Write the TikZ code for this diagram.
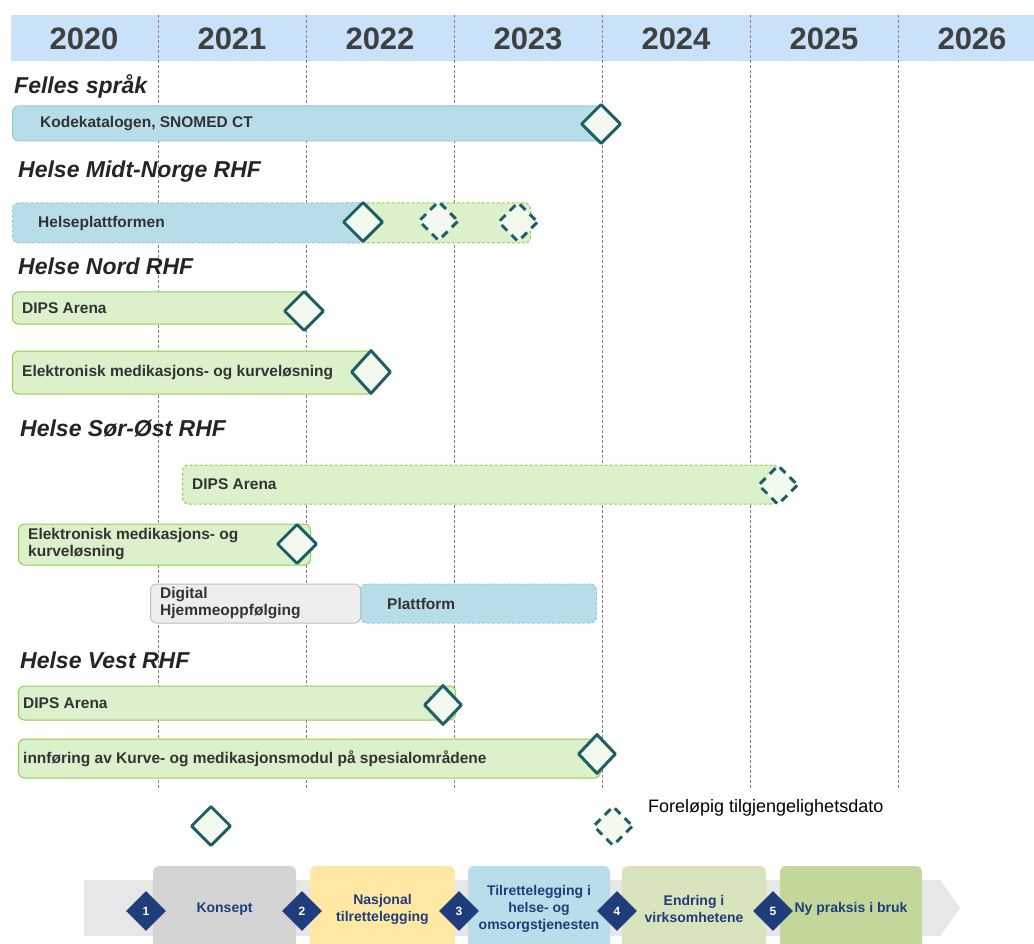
\documentclass[tikz,border=0pt]{standalone}
\usepackage{fontspec}
\setmainfont{Liberation Sans}
\usetikzlibrary{shapes.geometric,positioning}
\definecolor{headband}{HTML}{C9E2F9}
\definecolor{yeartext}{HTML}{404040}
\definecolor{headtext}{HTML}{262329}
\definecolor{gridgray}{HTML}{808080}
\definecolor{barblue}{HTML}{B7DDE8}
\definecolor{barblueedge}{HTML}{92CDDC}
\definecolor{bargreen}{HTML}{DCF0CB}
\definecolor{bargreenedge}{HTML}{92D050}
\definecolor{bargray}{HTML}{EDEDED}
\definecolor{bargrayedge}{HTML}{BFBFBF}
\definecolor{bartextcol}{HTML}{333333}
\definecolor{milefill}{HTML}{F3F9EF}
\definecolor{miledraw}{HTML}{1F5F66}
\definecolor{phasebg}{HTML}{E7E7E7}
\definecolor{phaseone}{HTML}{D4D4D4}
\definecolor{phasetwo}{HTML}{FFE8A3}
\definecolor{phasethree}{HTML}{B9DEE9}
\definecolor{phasefour}{HTML}{D8E4BC}
\definecolor{phasefive}{HTML}{C4D79B}
\definecolor{phasenavy}{HTML}{1F3D7A}

\begin{document}
\begin{tikzpicture}[
  x=1pt,
  y=-1pt,
  line join=round,
  yearlabel/.style={inner sep=0pt,font=\bfseries\fontsize{31}{31}\selectfont,text=yeartext},
  heading/.style={anchor=west,inner sep=0pt,font=\bfseries\itshape\fontsize{23}{24}\selectfont,text=headtext},
  gridline/.style={draw=gridgray,line width=0.8pt,dash pattern=on 3pt off 2pt},
  bar/.style={rectangle,rounded corners=6pt,line width=1pt,inner sep=0pt},
  bluebar/.style={bar,fill=barblue,draw=barblueedge},
  greenbar/.style={bar,fill=bargreen,draw=bargreenedge},
  graybar/.style={bar,fill=bargray,draw=bargrayedge},
  plannedbar/.style={dash pattern=on 3pt off 2pt},
  bartext/.style={inner sep=0pt,font=\bfseries\fontsize{15.5}{17}\selectfont,text=bartextcol,align=left},
  milestone/.style={diamond,inner sep=0pt,minimum width=40pt,minimum height=40pt,fill=milefill,draw=miledraw,line width=3pt},
  plannedmile/.style={milestone,dash pattern=on 8pt off 6pt,dash phase=11pt},
  phasebox/.style={rectangle,rounded corners=6pt,inner sep=0pt,minimum height=86pt,align=center,
    font=\bfseries\fontsize{14}{17}\selectfont,text=phasenavy},
  stepmark/.style={diamond,inner sep=0pt,minimum width=40pt,minimum height=40pt,fill=phasenavy,
    text=white,font=\bfseries\fontsize{12}{12}\selectfont}
]
  % Frame of the original screenshot.
  \useasboundingbox (0,0) rectangle (1034,944);

  % Year header and dashed year dividers.
  \fill[headband] (11,15) rectangle (1034,61);
  \foreach \x in {158,306,...,898}
    \draw[gridline] (\x,15) -- (\x,790);
  \foreach \yr [count=\i from 0] in {2020,...,2026}
    \node[yearlabel] (y\yr) at (84+148*\i,39) {\yr};

  % Felles spraak.
  \node[heading] (felles) at (14,86) {Felles språk};
  \node[bluebar,minimum width=590pt,minimum height=35pt,anchor=west] (kode) at (12,123.5) {};
  \node[bartext,right=28pt of kode.west] (kodetext) {Kodekatalogen, SNOMED CT};
  \node[milestone] (kodemile) at (601,124) {};

  % Helse Midt-Norge RHF.
  \node[heading] (midt) at (18,172) {Helse Midt-Norge RHF};
  \node[greenbar,plannedbar,minimum width=190pt,minimum height=40pt,anchor=west] (hpnext) at (340,223) {};
  \node[bluebar,plannedbar,minimum width=352pt,minimum height=40pt,anchor=west] (hp) at (12,223) {};
  \node[bartext,right=26pt of hp.west] (hptext) {Helseplattformen};
  \node[milestone] (hpmile) at (363,222) {};
  \node[plannedmile] (hpmiletwo) at (438.5,221) {};
  \node[plannedmile] (hpmilethree) at (518,222) {};

  % Helse Nord RHF.
  \node[heading] (nord) at (18,266) {Helse Nord RHF};
  \node[greenbar,minimum width=298pt,minimum height=32pt,anchor=west] (dipsnord) at (12,308) {};
  \node[bartext,right=10pt of dipsnord.west] (dipsnordtext) {DIPS Arena};
  \node[milestone] (dipsnordmile) at (304,311) {};
  \node[greenbar,minimum width=360pt,minimum height=43pt,anchor=west] (kurvenord) at (12,372.5) {};
  \node[bartext,right=10pt of kurvenord.west] (kurvenordtext) {Elektronisk medikasjons- og kurveløsning};
  \node[milestone,minimum height=44pt] (kurvenordmile) at (371,372) {};

  % Helse Soer-Oest RHF.
  \node[heading] (sorost) at (20,428) {Helse Sør-Øst RHF};
  \node[greenbar,plannedbar,minimum width=596pt,minimum height=39pt,anchor=west] (dipssor) at (182,484.5) {};
  \node[bartext,right=10pt of dipssor.west] (dipssortext) {DIPS Arena};
  \node[plannedmile] (dipssormile) at (778,485) {};
  \node[greenbar,minimum width=292pt,minimum height=41pt,anchor=west] (kurvesor) at (18,544.5) {};
  \node[bartext,right=10pt of kurvesor.west] (kurvesortext) {Elektronisk medikasjons- og\\kurveløsning};
  \node[milestone] (kurvesormile) at (297,544) {};
  \node[bluebar,plannedbar,minimum width=236pt,minimum height=39pt,anchor=west] (plattform) at (360,603.5) {};
  \node[graybar,minimum width=210pt,minimum height=39pt,anchor=west] (hjemme) at (150,603.5) {};
  \node[bartext,right=10pt of hjemme.west] (hjemmetext) {Digital\\Hjemmeoppfølging};
  \node[bartext,right=27pt of plattform.west] (plattformtext) {Plattform};

  % Helse Vest RHF.
  \node[heading] (vest) at (20,660) {Helse Vest RHF};
  \node[greenbar,minimum width=437pt,minimum height=34pt,anchor=west] (dipsvest) at (18,703) {};
  \node[bartext,right=5pt of dipsvest.west] (dipsvesttext) {DIPS Arena};
  \node[milestone,minimum width=38pt] (dipsvestmile) at (443,705) {};
  \node[greenbar,minimum width=582pt,minimum height=39pt,anchor=west] (innforing) at (18,758.5) {};
  \node[bartext,right=5pt of innforing.west] (innforingtext) {innføring av Kurve- og medikasjonsmodul på spesialområdene};
  \node[milestone,minimum width=38pt] (innforingmile) at (597,754) {};

  % Legend.
  \node[milestone] (legendmile) at (211,826) {};
  \node[plannedmile] (legendplanned) at (613,826) {};
  \node[anchor=west,inner sep=0pt,font=\fontsize{18}{18}\selectfont,text=black] (legendtext) at (648,808) {Foreløpig tilgjengelighetsdato};

  % Phases of the change process.
  \fill[phasebg] (84,880) -- (940,880) -- (960,908) -- (940,936) -- (84,936) -- cycle;
  \node[phasebox,fill=phaseone,minimum width=143pt] (konsept) at (224.5,909) {Konsept};
  \node[phasebox,fill=phasetwo,minimum width=145pt] (nasjonal) at (382.5,909) {Nasjonal\\tilrettelegging};
  \node[phasebox,fill=phasethree,minimum width=142pt] (tjenesten) at (539,909) {Tilrettelegging i\\helse- og\\omsorgstjenesten};
  \node[phasebox,fill=phasefour,minimum width=144pt] (endring) at (694,909) {Endring i\\virksomhetene};
  \node[phasebox,fill=phasefive,minimum width=142pt] (praksis) at (851,909) {Ny praksis i bruk};
  \node[stepmark] (s1) at (146,911) {1};
  \node[stepmark] (s2) at (302,911) {2};
  \node[stepmark] (s3) at (459,911) {3};
  \node[stepmark] (s4) at (617,911) {4};
  \node[stepmark] (s5) at (773,911) {5};
\end{tikzpicture}
\end{document}
